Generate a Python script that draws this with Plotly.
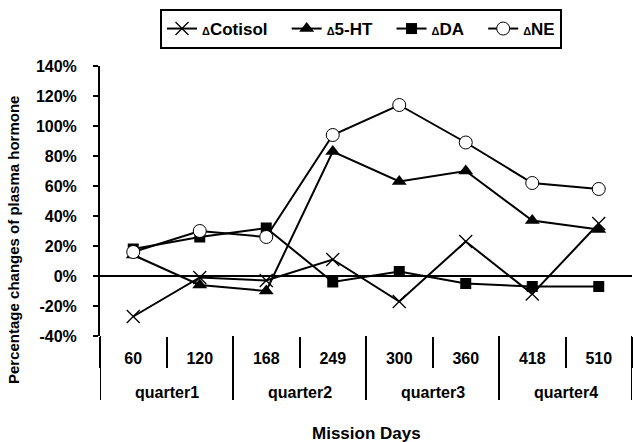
import plotly.graph_objects as go

quarters = ["quarter1", "quarter1", "quarter2", "quarter2",
            "quarter3", "quarter3", "quarter4", "quarter4"]
days = ["60", "120", "168", "249", "300", "360", "418", "510"]

cotisol = [-27, -1, -3, 11, -17, 23, -12, 35]
ht5 = [14, -6, -10, 83, 63, 70, 37, 31]
da = [18, 26, 32, -4, 3, -5, -7, -7]
ne = [16, 30, 26, 94, 114, 89, 62, 58]

y_ticks = [-40, -20, 0, 20, 40, 60, 80, 100, 120, 140]

FONT = "Liberation Sans, Arial, sans-serif"

# plot geometry (pixels)
W, H = 633, 442
ML, MR, MT, MB = 100, 1, 66, 106
PH = H - MT - MB

def lbl(name, last=False):
    pad = "" if last else "\u00a0\u00a0\u00a0"
    return '<span style="font-size:11px">\u0394</span>' + name + pad

fig = go.Figure()
fig.add_trace(go.Scatter(
    x=days, y=cotisol, name=lbl("Cotisol"), mode="lines+markers",
    line=dict(color="black", width=2),
    marker=dict(symbol="x-thin", size=13, line=dict(color="black", width=1.3), color="black"),
))
fig.add_trace(go.Scatter(
    x=days, y=ht5, name=lbl("5-HT"), mode="lines+markers",
    line=dict(color="black", width=2),
    marker=dict(symbol="triangle-up", size=13, color="black"),
))
fig.add_trace(go.Scatter(
    x=days, y=da, name=lbl("DA"), mode="lines+markers",
    line=dict(color="black", width=2),
    marker=dict(symbol="square", size=11, color="black"),
))
fig.add_trace(go.Scatter(
    x=days, y=ne, name=lbl("NE", last=True), mode="lines+markers",
    line=dict(color="black", width=2),
    marker=dict(symbol="circle", size=13, color="white", line=dict(color="black", width=1)),
))

n = len(days)
inner_bounds = [i + 0.5 for i in range(n - 1)]

# group (quarter) boundaries and centres
group_bounds = [-0.5]
groups = []
start = 0
for i in range(1, n + 1):
    if i == n or quarters[i] != quarters[i - 1]:
        groups.append((quarters[start], (start + i - 1) / 2))
        group_bounds.append(i - 0.5)
        start = i

shapes = []
for b in group_bounds:
    shapes.append(dict(type="line", xref="x", yref="paper", x0=b, x1=b,
                       y0=0, y1=-64 / PH, line=dict(color="black", width=2)))

annotations = []
for name, c in groups:
    annotations.append(dict(text=name, xref="x", yref="paper", x=c, y=-56 / PH,
                            xanchor="center", yanchor="middle", showarrow=False,
                            font=dict(family=FONT, size=16, color="black", weight="bold")))
annotations.append(dict(text="Percentage changes of plasma hormone", textangle=-90,
                        xref="paper", yref="paper", x=(14 - ML) / (W - ML - MR),
                        y=(PH + MT - 240) / PH,
                        xanchor="center", yanchor="middle", showarrow=False,
                        font=dict(family=FONT, size=15, color="black", weight="bold")))
annotations.append(dict(text="Mission Days",
                        xref="paper", yref="paper", x=0.5, y=(PH + MT - 433) / PH,
                        xanchor="center", yanchor="middle", showarrow=False,
                        font=dict(family=FONT, size=17, color="black", weight="bold")))

fig.update_layout(
    width=W, height=H,
    margin=dict(l=ML, r=MR, t=MT, b=MB, autoexpand=False),
    paper_bgcolor="white", plot_bgcolor="white",
    font=dict(family=FONT, size=16, color="black", weight="bold"),
    showlegend=True,
    legend=dict(
        orientation="h", xref="container", yref="container",
        x=361 / W, xanchor="center", y=1 - 9 / H, yanchor="top",
        bordercolor="black", borderwidth=2, bgcolor="white",
        font=dict(family=FONT, size=17, color="black", weight="bold"),
        itemwidth=30,
    ),
    xaxis=dict(
        type="category", range=[-0.5, n - 0.5],
        showgrid=False, showline=False, zeroline=False,
        tickson="boundaries", ticks="outside", ticklen=31, tickwidth=2, tickcolor="black",
        tickfont=dict(family=FONT, size=16, color="black", weight="bold"),
        ticklabelstandoff=11, automargin=False,
    ),
    xaxis2=dict(
        overlaying="x", anchor="free", position=(0 - y_ticks[0]) / (y_ticks[-1] - y_ticks[0]),
        range=[-0.5, n - 0.5], tickvals=inner_bounds, showticklabels=False,
        ticks="outside", ticklen=5, tickwidth=2, tickcolor="black",
        showgrid=False, showline=False, zeroline=False, side="bottom",
    ),
    yaxis=dict(
        range=[y_ticks[0], y_ticks[-1]], tickvals=y_ticks,
        ticktext=[f"{v}%" for v in y_ticks],
        showgrid=False, showline=True, linecolor="black", linewidth=2,
        ticks="outside", ticklen=5, tickwidth=2, tickcolor="black",
        zeroline=True, zerolinecolor="black", zerolinewidth=2,
        tickfont=dict(family=FONT, size=16, color="black", weight="bold"),
        ticklabelstandoff=13, automargin=False,
    ),
    shapes=shapes,
    annotations=annotations,
)

fig.write_html("out.html", config={"displayModeBar": False},
               post_script="document.body.style.margin='0';")
